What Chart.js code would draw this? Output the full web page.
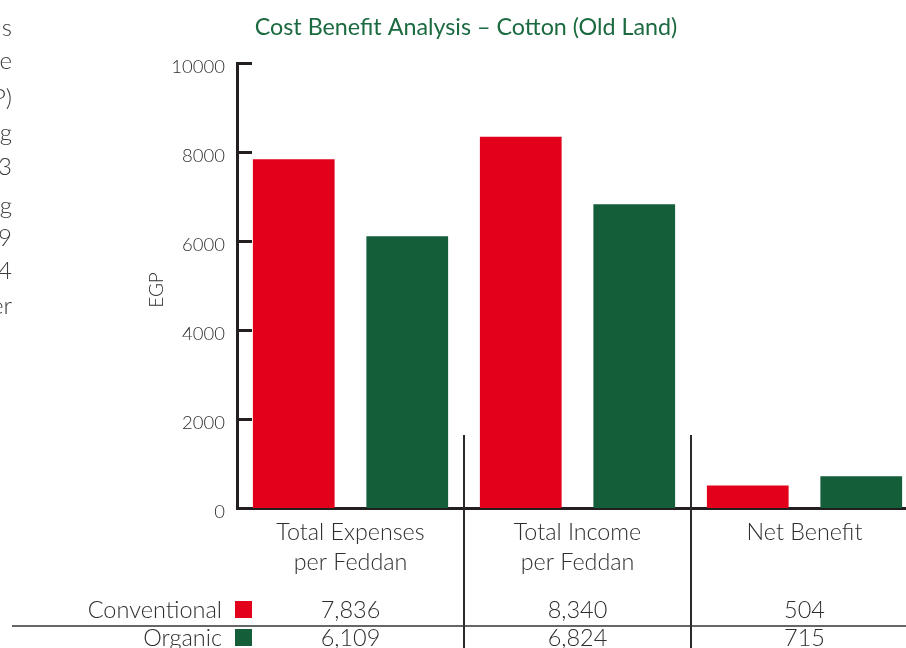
<!DOCTYPE html>
<html>
<head>
<meta charset="utf-8">
<script src="https://cdn.jsdelivr.net/npm/chart.js@4.4.1/dist/chart.umd.min.js"></script>
<style>
  html, body { margin: 0; padding: 0; background: #fff; overflow: hidden; width: 906px; height: 648px; }
  #wrap { position: absolute; left: 0; top: 0; width: 920px; height: 648px; }
  .frag { position: absolute; left: -200px; width: 212px; text-align: right; font-family: Lato, "Open Sans", sans-serif; font-weight: 300; font-size: 24px; color: #3a3a3a; line-height: 1; white-space: nowrap; }
</style>
</head>
<body>
<div id="wrap"><canvas id="c" width="920" height="648"></canvas></div>
<div id="frags"></div>
<script>
// ---- data ----
const categories = [["Total Expenses", "per Feddan"], ["Total Income", "per Feddan"], ["Net Benefit"]];
const conventional = [7836, 8340, 504];
const organic = [6109, 6824, 715];
const seriesNames = ["Conventional", "Organic"];
const yTicks = [0, 2000, 4000, 6000, 8000, 10000];
const chartTitle = "Cost Benefit Analysis – Cotton (Old Land)";
const yAxisTitle = "EGP";
const leftFragments = ["s", "e", "P)", "g", "3", "g", "9", "4", "er"];

// ---- styles ----
const RED = "#e2001a";
const GREEN = "#145e3a";
const TITLE_GREEN = "#1b6a40";
const AXIS = "#231f20";
const TEXT = "#2e2e2e";
const FONT = 'Lato, "Open Sans", sans-serif';

// left cut-off text fragments from neighbouring column
const fragTops = [15, 48, 85, 120, 154, 193, 225, 258, 293];
const fc = document.getElementById('frags');
leftFragments.forEach((t, i) => {
  const d = document.createElement('div');
  d.className = 'frag';
  d.style.top = fragTops[i] + 'px';
  d.textContent = t;
  fc.appendChild(d);
});

const fmt = v => v.toLocaleString('en-US');

const decor = {
  id: 'decor',
  afterDraw(chart) {
    const ctx = chart.ctx;
    const x = chart.scales.x, y = chart.scales.y;
    const area = chart.chartArea;
    ctx.save();
    // inner ticks on y axis + tick labels
    ctx.strokeStyle = AXIS;
    ctx.lineWidth = 3;
    ctx.font = '300 18.5px ' + FONT;
    ctx.fillStyle = TEXT;
    ctx.textAlign = 'right';
    ctx.textBaseline = 'middle';
    yTicks.forEach(v => {
      const py = Math.round(y.getPixelForValue(v)) + 0.5;
      ctx.beginPath();
      ctx.moveTo(area.left, py);
      ctx.lineTo(area.left + 15, py);
      ctx.stroke();
      ctx.fillText(String(v), area.left - 12, py + 4);
    });
    // category dividers
    ctx.lineWidth = 2;
    ctx.strokeStyle = "#2a2a2a";
    for (let i = 0; i < categories.length - 1; i++) {
      const px = Math.round((x.getPixelForValue(i) + x.getPixelForValue(i + 1)) / 2);
      ctx.beginPath();
      ctx.moveTo(px, area.bottom - 73);
      ctx.lineTo(px, chart.height);
      ctx.stroke();
    }
    // table separator
    ctx.lineWidth = 1.5;
    ctx.strokeStyle = "#333";
    ctx.beginPath();
    ctx.moveTo(12, 626);
    ctx.lineTo(chart.width, 626);
    ctx.stroke();

    // table rows
    const rows = [{name: seriesNames[0], data: conventional, color: RED, cy: 610},
                  {name: seriesNames[1], data: organic, color: GREEN, cy: 638}];
    ctx.font = '300 23.5px ' + FONT;
    ctx.textBaseline = 'middle';
    rows.forEach(r => {
      ctx.fillStyle = TEXT;
      ctx.textAlign = 'right';
      ctx.fillText(r.name, area.left - 15, r.cy);
      ctx.fillStyle = r.color;
      ctx.fillRect(area.left - 2, r.cy - 9, 17, 17);
      ctx.fillStyle = TEXT;
      ctx.textAlign = 'center';
      r.data.forEach((v, i) => {
        ctx.fillText(fmt(v), x.getPixelForValue(i), r.cy);
      });
    });

    // title
    ctx.font = '400 23.3px ' + FONT;
    ctx.fillStyle = TITLE_GREEN;
    ctx.textAlign = 'center';
    ctx.fillText(chartTitle, 466, 27);

    // y axis title
    ctx.translate(157, 290);
    ctx.rotate(-Math.PI / 2);
    ctx.font = '300 19px ' + FONT;
    ctx.fillStyle = TEXT;
    ctx.textAlign = 'center';
    ctx.fillText(yAxisTitle, 0, 0);
    ctx.restore();
  }
};

new Chart(document.getElementById('c'), {
  type: 'bar',
  data: {
    labels: categories,
    datasets: [
      {label: seriesNames[0], data: conventional, backgroundColor: RED},
      {label: seriesNames[1], data: organic, backgroundColor: GREEN}
    ]
  },
  options: {
    responsive: false,
    animation: false,
    devicePixelRatio: 1,
    categoryPercentage: 1.0,
    barPercentage: 0.72,
    layout: { padding: { top: 63, left: 0, right: 2, bottom: 0 } },
    plugins: { legend: { display: false }, title: { display: false }, tooltip: { enabled: false } },
    scales: {
      x: {
        grid: { display: false, drawTicks: false },
        border: { display: true, color: AXIS, width: 3 },
        ticks: { color: TEXT, font: { family: FONT, size: 23.3, weight: '300', lineHeight: 1.29 }, padding: 9, maxRotation: 0, autoSkip: false },
        afterFit(s) { s.height = 140; }
      },
      y: {
        min: 0, max: 10000,
        afterBuildTicks(s) { s.ticks = yTicks.map(v => ({value: v})); },
        grid: { display: false, drawTicks: false },
        border: { display: true, color: AXIS, width: 3 },
        ticks: { display: false },
        afterFit(s) { s.width = 237; }
      }
    }
  },
  plugins: [decor]
});
</script>
</body>
</html>
